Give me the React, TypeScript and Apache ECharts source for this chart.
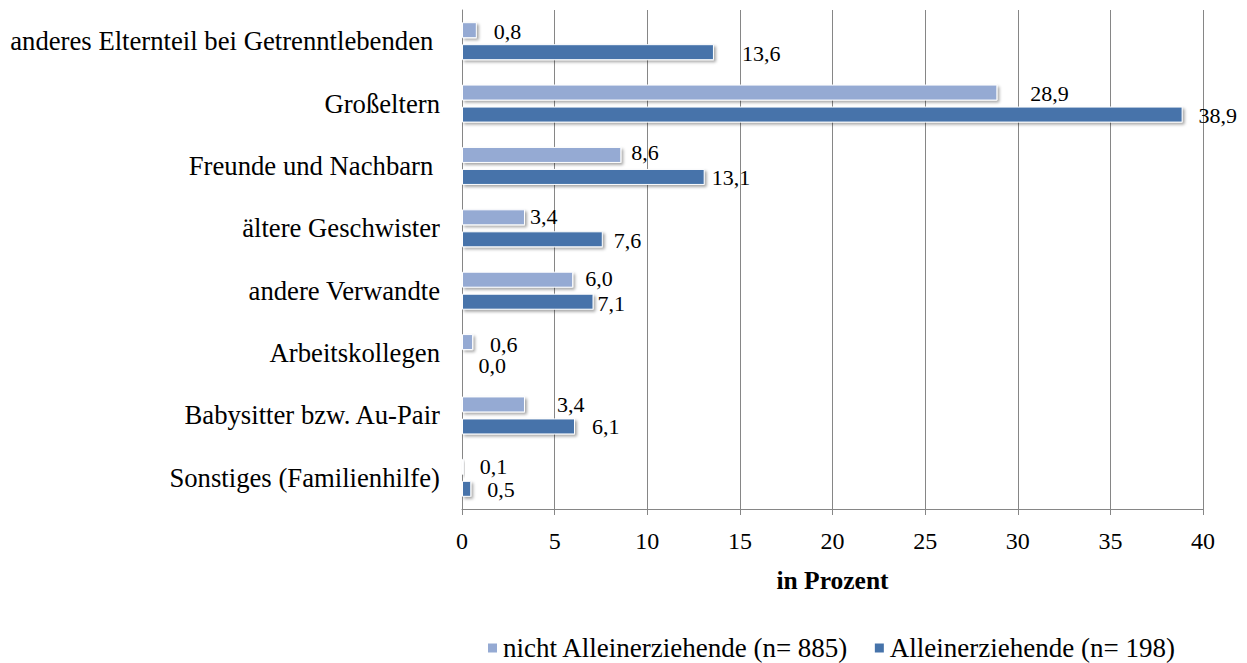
import React, { useEffect, useRef } from "react";
import * as echarts from "echarts";

const categories = [
  "anderes Elternteil bei Getrenntlebenden ",
  "Großeltern",
  "Freunde und Nachbarn ",
  "ältere Geschwister",
  "andere Verwandte",
  "Arbeitskollegen",
  "Babysitter bzw. Au-Pair",
  "Sonstiges (Familienhilfe)",
];
const seriesNames = ["nicht Alleinerziehende (n= 885)", "Alleinerziehende (n= 198)"];
const nichtAllein = [0.8, 28.9, 8.6, 3.4, 6.0, 0.6, 3.4, 0.1];
const allein = [13.6, 38.9, 13.1, 7.6, 7.1, 0.0, 6.1, 0.5];
const xTicks = { min: 0, max: 40, interval: 5 };

// label placement offsets (pixels), mimicking the original layout
const lightLabelDx = [17, 33, 10, 5, 12, 17, 32, 16];
const lightLabelDy = [1, 1, -2, -1, -1, 2, 0, 0];
const darkLabelDx = [28, 16, 7, 11, 4, 16, 17, 16];
const darkLabelDy = [1, 1, 1, 1, 2, 1, 0, 1];

const FONT = "Liberation Serif";
const LIGHT = "#95AAD3";
const DARK = "#4673AA";

function makeData(values: number[], dx: number[], dy: number[]) {
  return values.map((v, i) => ({
    value: v,
    label: { offset: [dx[i], dy[i]] },
  }));
}

export default function App() {
  const ref = useRef<HTMLDivElement>(null);
  useEffect(() => {
    if (!ref.current) return;
    const chart = echarts.init(ref.current, undefined, { renderer: "svg" });
    const barStyle = (color: string) => ({
      color,
      borderColor: "#ffffff",
      borderWidth: 1,
      shadowBlur: 3,
      shadowColor: "rgba(0,0,0,0.35)",
      shadowOffsetX: 2,
      shadowOffsetY: 2,
    });
    const label = {
      show: true,
      position: "right",
      distance: 0,
      fontFamily: FONT,
      fontSize: 22,
      color: "#000",
      formatter: (p: any) => Number(p.value).toFixed(1).replace(".", ","),
    };
    chart.setOption({
      animation: false,
      textStyle: { fontFamily: FONT },
      grid: { left: 462, right: 44, top: 10, bottom: 154, containLabel: false },
      legend: {
        top: 634,
        left: 486,
        padding: 0,
        itemWidth: 11,
        itemHeight: 11,
        itemGap: 24,
        icon: "rect",
        textStyle: { fontFamily: FONT, fontSize: 27, lineHeight: 28, color: "#000" },
        data: seriesNames,
      },
      xAxis: {
        type: "value",
        min: xTicks.min,
        max: xTicks.max,
        interval: xTicks.interval,
        name: "in Prozent",
        nameLocation: "middle",
        nameGap: 58,
        nameTextStyle: { fontFamily: FONT, fontSize: 25.5, fontWeight: "bold", color: "#000" },
        axisLine: { show: true, lineStyle: { color: "#868686", width: 1 } },
        axisTick: { show: true, length: 6, lineStyle: { color: "#868686" } },
        axisLabel: { fontFamily: FONT, fontSize: 24, color: "#000", margin: 20 },
        splitLine: { show: true, lineStyle: { color: "#868686", width: 1 } },
      },
      yAxis: {
        type: "category",
        inverse: true,
        data: categories,
        axisLine: { show: true, lineStyle: { color: "#868686", width: 1 } },
        axisTick: { show: false },
        axisLabel: { fontFamily: FONT, fontSize: 26.7, color: "#000", margin: 22 },
      },
      series: [
        {
          name: seriesNames[0],
          type: "bar",
          barWidth: 16,
          barGap: "37.5%",
          itemStyle: barStyle(LIGHT),
          label,
          data: makeData(nichtAllein, lightLabelDx, lightLabelDy),
        },
        {
          name: seriesNames[1],
          type: "bar",
          barWidth: 16,
          barGap: "37.5%",
          itemStyle: barStyle(DARK),
          label,
          data: makeData(allein, darkLabelDx, darkLabelDy),
        },
      ],
    });
    return () => chart.dispose();
  }, []);
  return <div ref={ref} style={{ width: 1247, height: 663, position: "absolute", left: 0, top: 0 }} />;
}
